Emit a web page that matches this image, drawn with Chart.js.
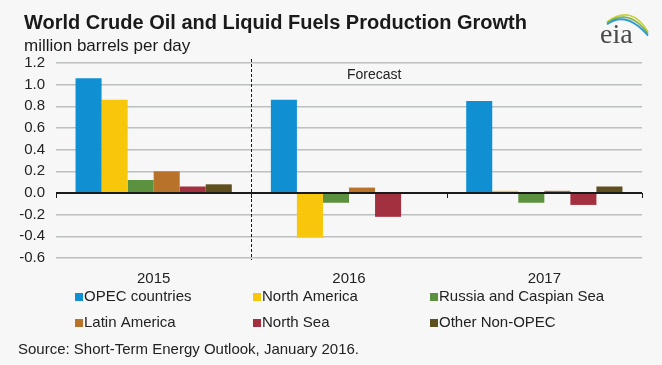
<!DOCTYPE html>
<html>
<head>
<meta charset="utf-8">
<script src="https://cdn.jsdelivr.net/npm/chart.js@4.4.1/dist/chart.umd.min.js"></script>
<style>
	html, body { margin: 0; padding: 0; background: #f7f7f7; }
	#wrap { width: 662px; height: 365px; position: relative; }
</style>
</head>
<body>
<div id="wrap"><canvas id="oil-chart" width="662" height="365"></canvas></div>
<script>
	// data
	const years = ['2015', '2016', '2017'];
	const opec = [1.06, 0.86, 0.85];
	const northAmerica = [0.86, -0.41, 0.02];
	const russiaCaspian = [0.12, -0.09, -0.09];
	const latinAmerica = [0.20, 0.05, 0.02];
	const northSea = [0.06, -0.22, -0.11];
	const otherNonOpec = [0.08, 0, 0.06];
	const yTicks = [-0.6, -0.4, -0.2, 0.0, 0.2, 0.4, 0.6, 0.8, 1.0, 1.2];

	const FONT = "'Liberation Sans', Arial, sans-serif";

	// titles, legend, dividers, logo
	const decor = {
		id: 'decor',
		afterDatasetsDraw(chart) {
			const ctx = chart.ctx;
			const area = chart.chartArea;
			const y = chart.scales.y;
			const y0 = y.getPixelForValue(0);
			ctx.save();

			// zero line with small ticks on category borders
			ctx.strokeStyle = '#1a1a1a';
			ctx.lineWidth = 2;
			ctx.beginPath();
			ctx.moveTo(area.left, y0);
			ctx.lineTo(area.right, y0);
			ctx.stroke();
			ctx.lineWidth = 1;
			const step = (area.right - area.left) / years.length;
			for (let i = 0; i <= years.length; i++) {
				const px = Math.round(area.left + step * i) + 0.5;
				ctx.beginPath();
				ctx.moveTo(px, y0);
				ctx.lineTo(px, y0 + 5);
				ctx.stroke();
			}

			// forecast divider
			const xd = Math.round(area.left + step) + 0.5;
			ctx.setLineDash([3, 2]);
			ctx.beginPath();
			ctx.moveTo(xd, area.top - 4);
			ctx.lineTo(xd, area.bottom + 2);
			ctx.stroke();
			ctx.setLineDash([]);

			ctx.fillStyle = '#222';
			ctx.font = '14px ' + FONT;
			ctx.textBaseline = 'middle';
			ctx.textAlign = 'left';
			ctx.fillText('Forecast', 347, 75);
			ctx.restore();
		},
		afterDraw(chart) {
			const ctx = chart.ctx;
			ctx.save();
			ctx.fillStyle = '#1a1a1a';
			ctx.textBaseline = 'alphabetic';
			ctx.font = 'bold 20px ' + FONT;
			ctx.fillText('World Crude Oil and Liquid Fuels Production Growth', 24, 29);
			ctx.font = '17px ' + FONT;
			ctx.fillText('million barrels per day', 24, 51);

			// legend in three columns
			const cols = [75, 253, 430];
			const rows = [297, 323];
			ctx.font = '15px ' + FONT;
			ctx.textBaseline = 'middle';
			chart.data.datasets.forEach((ds, i) => {
				const lx = cols[i % 3];
				const ly = rows[Math.floor(i / 3)];
				ctx.fillStyle = ds.backgroundColor;
				ctx.fillRect(lx, ly - 4, 8, 8);
				ctx.fillStyle = '#222';
				ctx.fillText(ds.label, lx + 9, ly);
			});

			ctx.fillText('Source: Short-Term Energy Outlook, January 2016.', 18, 350);

			// eia logo
			ctx.lineWidth = 1.8;
			const arcs = [['#c9d23c', 0], ['#7cb342', 3], ['#2e9bd6', 6]];
			arcs.forEach(a => {
				ctx.strokeStyle = a[0];
				ctx.beginPath();
				ctx.moveTo(607, 22 + a[1] * 0.4);
				ctx.quadraticCurveTo(632 - a[1], 4 + a[1], 648, 32 + a[1] * 0.6);
				ctx.stroke();
			});
			ctx.fillStyle = '#4a4a4a';
			ctx.font = '28px "Liberation Serif", "DejaVu Serif", serif';
			ctx.textBaseline = 'alphabetic';
			ctx.fillText('eia', 600, 43);
			ctx.restore();
		}
	};

	const data = {
		labels: years,
		datasets: [
			{ label: 'OPEC countries', data: opec, backgroundColor: '#1090d3' },
			{ label: 'North America', data: northAmerica, backgroundColor: '#f8c60a' },
			{ label: 'Russia and Caspian Sea', data: russiaCaspian, backgroundColor: '#5b913f' },
			{ label: 'Latin America', data: latinAmerica, backgroundColor: '#b87229' },
			{ label: 'North Sea', data: northSea, backgroundColor: '#a3303f' },
			{ label: 'Other Non-OPEC', data: otherNonOpec, backgroundColor: '#5f4e1e' }
		]
	};

	const config = {
		type: 'bar',
		data: data,
		options: {
			responsive: false,
			animation: false,
			layout: { padding: { top: 63, right: 20, left: 0, bottom: 0 } },
			datasets: { bar: { categoryPercentage: 0.8, barPercentage: 1.0 } },
			plugins: { legend: { display: false }, tooltip: { enabled: false } },
			scales: {
				x: {
					grid: { display: false },
					border: { display: false },
					ticks: { font: { family: FONT, size: 15 }, color: '#222', padding: 4 },
					afterFit(scale) { scale.height = 107; }
				},
				y: {
					min: yTicks[0],
					max: yTicks[yTicks.length - 1],
					afterBuildTicks(scale) { scale.ticks = yTicks.map(v => ({ value: v })); },
					grid: { color: '#bcc0c0', lineWidth: 1.5, drawTicks: false },
					border: { display: false },
					ticks: {
						font: { family: FONT, size: 15 },
						color: '#222',
						padding: 11,
						callback: v => v.toFixed(1)
					},
					afterFit(scale) { scale.width = 56; }
				}
			}
		},
		plugins: [decor]
	};

	const myChart = new Chart(document.getElementById('oil-chart'), config);
</script>
</body>
</html>
